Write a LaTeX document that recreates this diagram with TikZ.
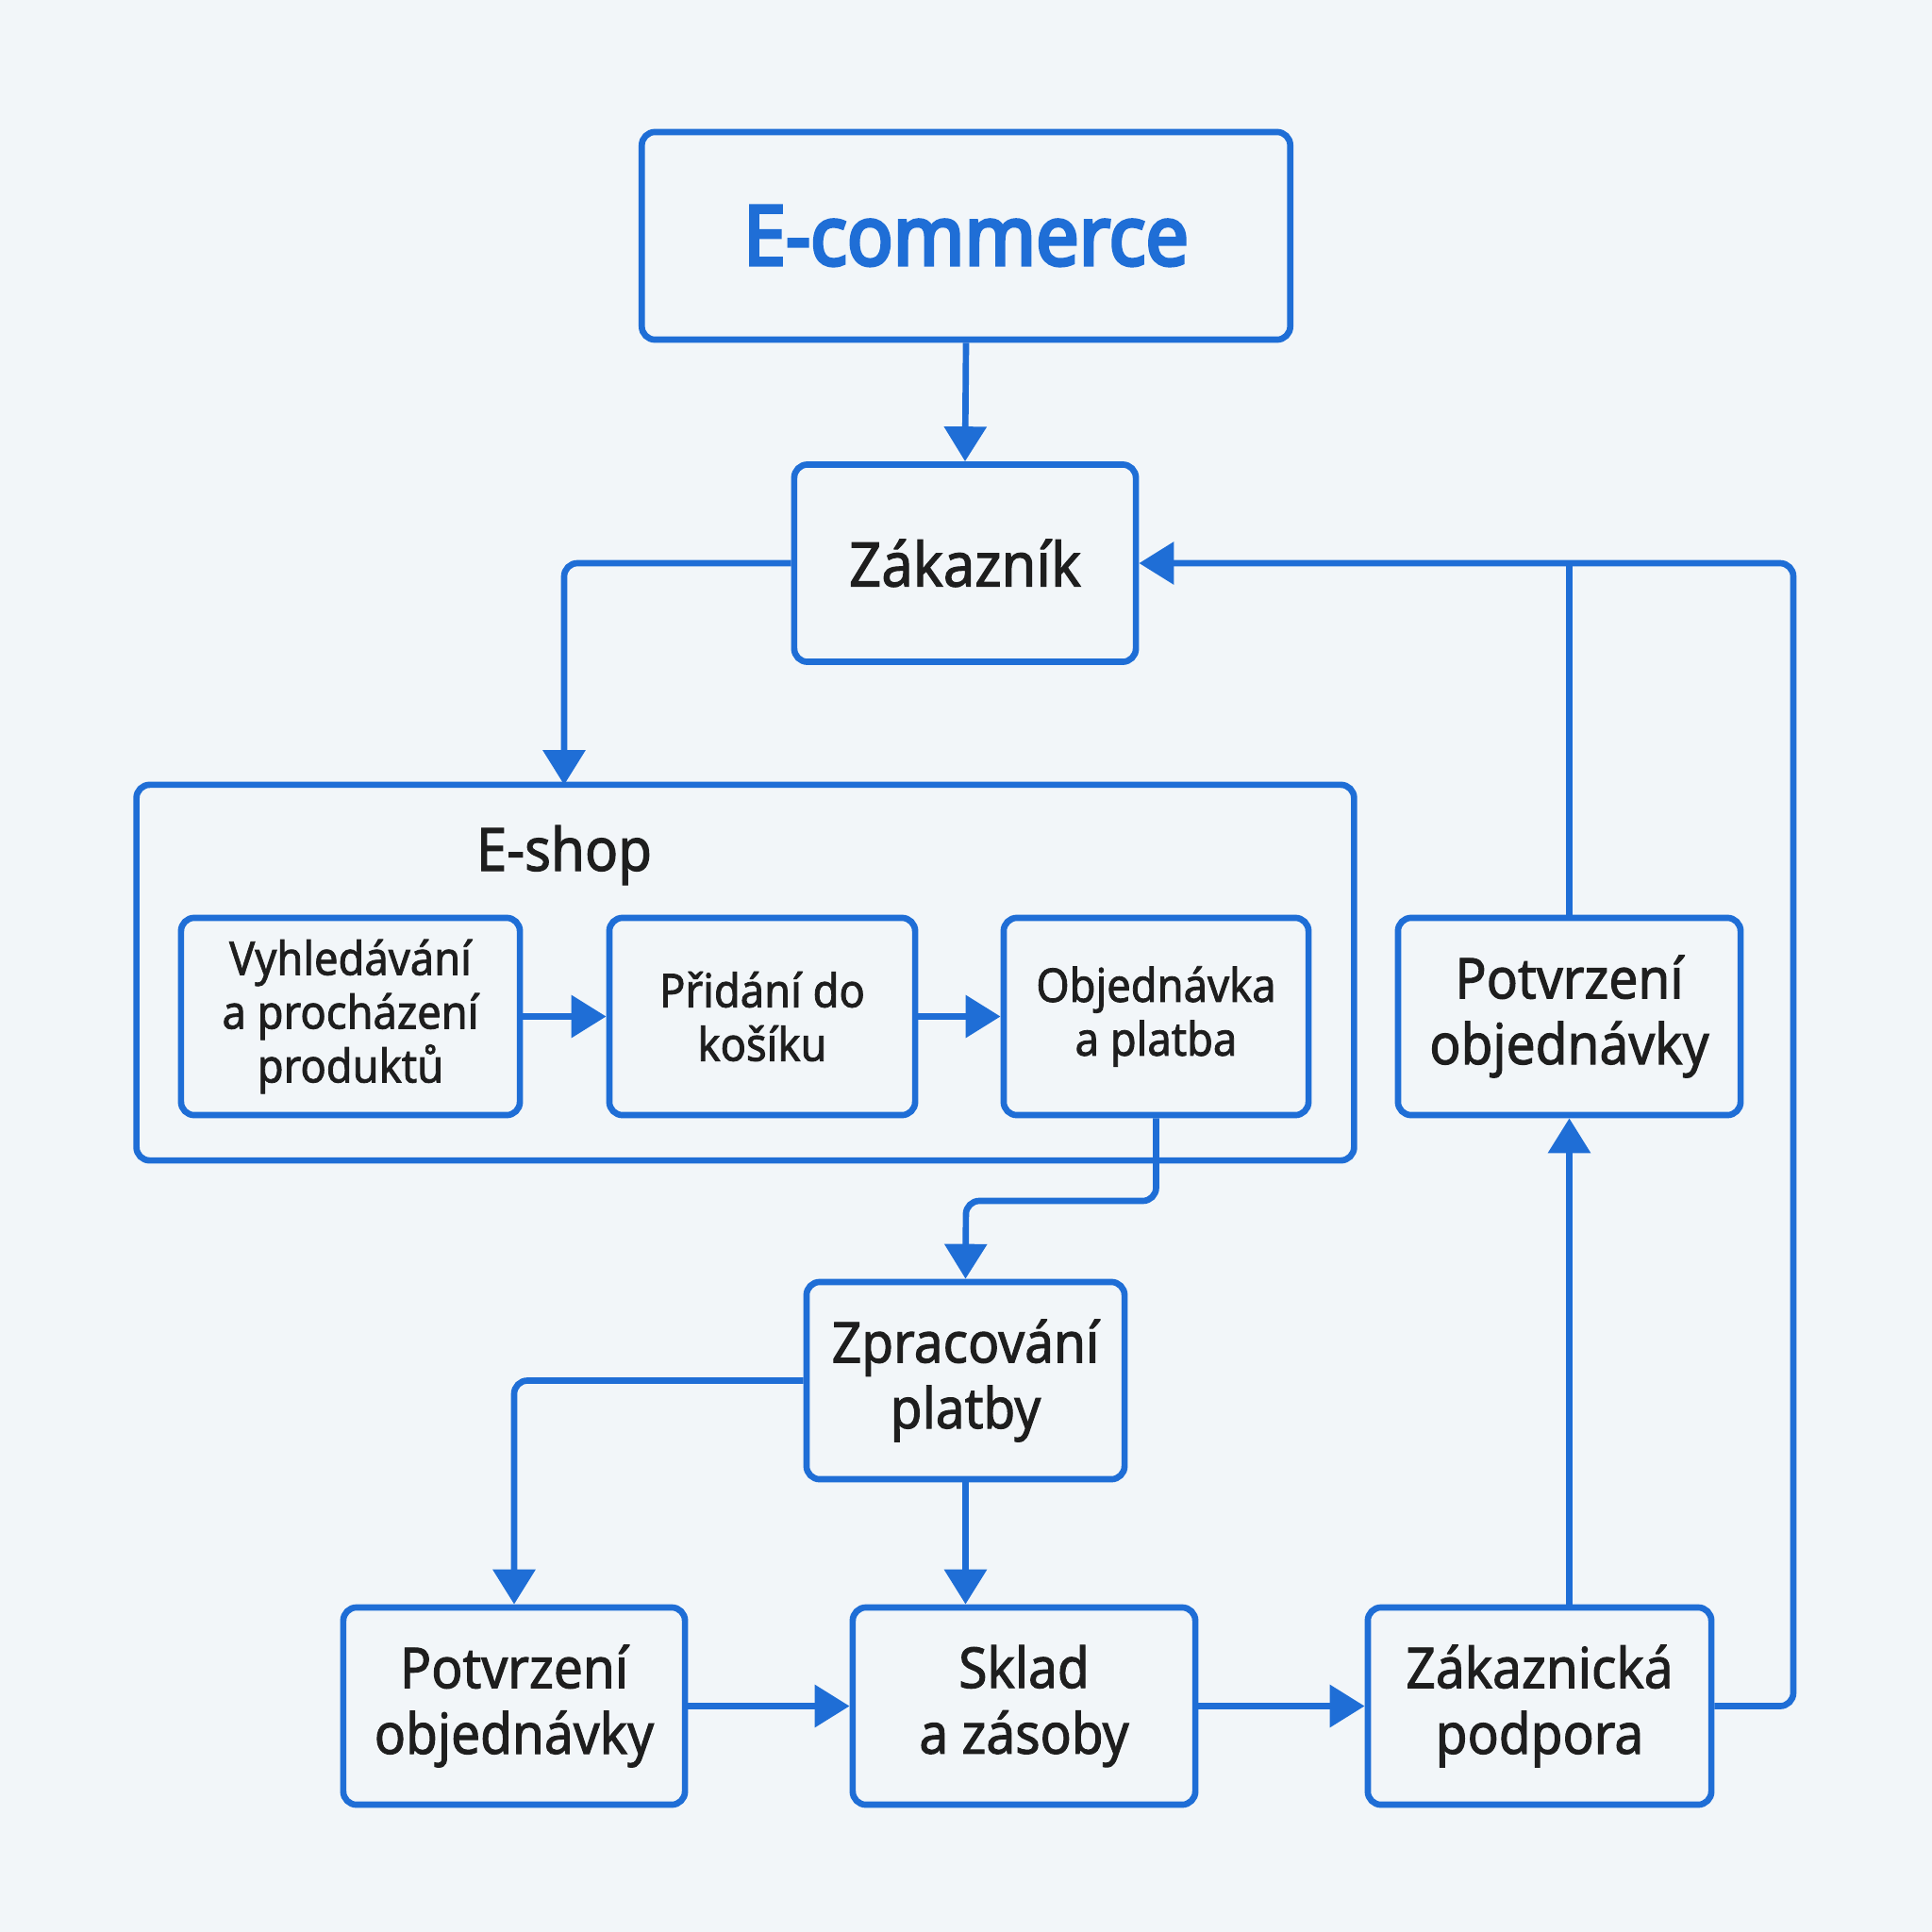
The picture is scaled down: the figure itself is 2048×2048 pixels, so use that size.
\documentclass[tikz,border=0pt]{standalone}
\usepackage{fontspec}
\setmainfont{Noto Sans}[FakeStretch=0.92,FakeBold=1.6]
\newfontfamily\boldfam{Noto Sans}[FakeStretch=0.92,FakeBold=4]
\usetikzlibrary{arrows.meta,positioning}
\definecolor{bl}{HTML}{1F6ED6}
\definecolor{bg}{HTML}{F2F6F9}
\definecolor{tx}{HTML}{1E1E1E}
\tikzset{
  box/.style={draw=bl, line width=1.9pt, rounded corners=4pt, fill=bg, align=center, text=tx, inner sep=0pt},
  big/.style={font=\fontsize{17}{19.8}\selectfont},
  small/.style={font=\fontsize{14}{16.2}\selectfont},
  conn/.style={draw=bl, line width=1.9pt, rounded corners=4pt},
  arr/.style={conn, -{Triangle[length=10.5pt,width=12.5pt]}},
}
\begin{document}
\begin{tikzpicture}[x=0.01cm,y=-0.01cm]
\fill[bg] (0,0) rectangle (2048,2048);
\useasboundingbox (0,0) rectangle (2048,2048);

\node[box, minimum width=6.87cm, minimum height=2.20cm, text=bl, font=\boldfam\fontsize{25}{28}\selectfont] (ecom) at (1024,250) {E-commerce};
\node[box, minimum width=3.62cm, minimum height=2.09cm, font=\fontsize{18.5}{21}\selectfont] (zak) at (1023,597) {Zákazník};

\node[box, minimum width=12.90cm, minimum height=3.98cm] (eshop) at (790,1031) {};
\node[text=tx, font=\fontsize{18}{21}\selectfont, anchor=base] (eshoplbl) at (598,923) {E-shop};

\node[box, small, minimum width=3.59cm, minimum height=2.09cm] (vyh) at (371.5,1077.5) {Vyhledávání\\a procházení\\produktů};
\node[box, small, minimum width=3.24cm, minimum height=2.09cm] (pri) at (808,1077.5) {Přidání do\\košíku};
\node[box, small, minimum width=3.23cm, minimum height=2.09cm] (obj) at (1225.5,1077.5) {Objednávka\\a platba};
\node[box, big, minimum width=3.63cm, minimum height=2.09cm] (pot1) at (1663.5,1077.5) {Potvrzení\\objednávky};

\node[box, big, minimum width=3.37cm, minimum height=2.09cm] (zpr) at (1023.5,1463.5) {Zpracování\\platby};

\node[box, big, minimum width=3.62cm, minimum height=2.09cm] (pot2) at (545,1808.5) {Potvrzení\\objednávky};
\node[box, big, minimum width=3.63cm, minimum height=2.09cm] (skl) at (1085.5,1808.5) {Sklad\\a zásoby};
\node[box, big, minimum width=3.64cm, minimum height=2.09cm] (zpo) at (1632,1808.5) {Zákaznická\\podpora};

\coordinate (eshopin) at (598,832);
\coordinate (rightx) at (1901,597);
\coordinate (midy) at (1024,1273);

% connectors
\draw[arr] (ecom.south) -- (zak.north);
\draw[arr] (zak.west) -| (eshopin);
\draw[arr] (zpo.east) -| (rightx) -- (zak.east);
\draw[conn] (pot1.north) -- (pot1.north |- zak.east);
\draw[arr] (pot1.south |- zpo.north) -- (pot1.south);
\draw[arr] (vyh.east) -- (pri.west);
\draw[arr] (pri.east) -- (obj.west);
\draw[arr] (obj.south) |- (midy) -- (zpr.north);
\draw[arr] (zpr.west) -| (pot2.north);
\draw[arr] (zpr.south) -- (zpr.south |- skl.north);
\draw[arr] (pot2.east) -- (skl.west);
\draw[arr] (skl.east) -- (zpo.west);
\end{tikzpicture}
\end{document}
